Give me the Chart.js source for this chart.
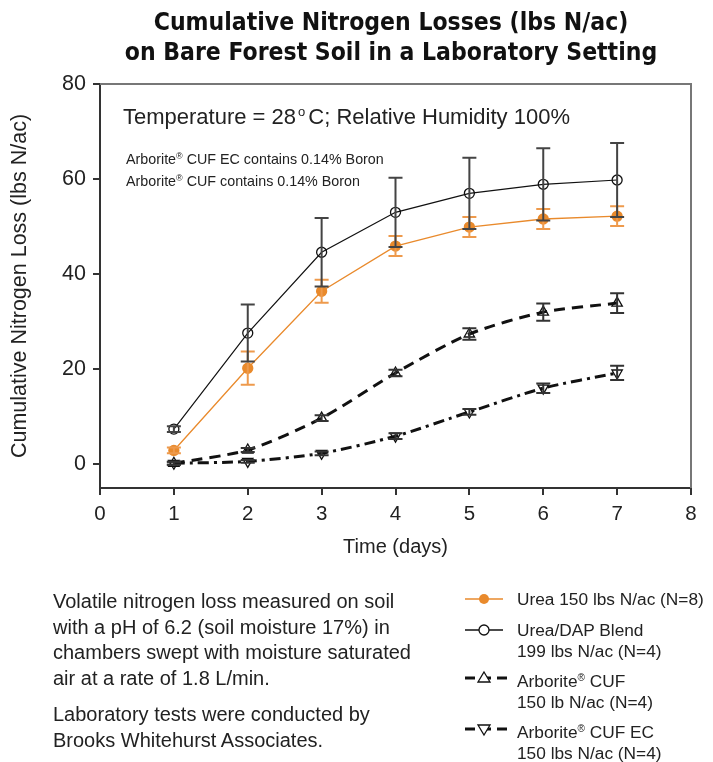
<!DOCTYPE html>
<html>
<head>
<meta charset="utf-8">
<script src="https://cdn.jsdelivr.net/npm/chart.js@4/dist/chart.umd.min.js"></script>
<style>
  html, body { margin: 0; padding: 0; background: #fff; }
  #wrap { position: relative; width: 713px; height: 762px; font-family: 'Liberation Sans', Arial, sans-serif; color: #222; }
  #chart { position: absolute; left: 0; top: 0; }
  .title { position: absolute; left: 91px; width: 600px; top: 7px; text-align: center;
    font-family: 'Liberation Sans Narrow', 'DejaVu Sans Condensed', sans-serif; font-weight: bold;
    font-size: 24.5px; line-height: 30px; color: #111; }
  .temp { position: absolute; left: 123px; top: 104px; font-size: 22px; white-space: nowrap; }
  .temp sup { font-size: 13px; vertical-align: 8px; margin: 0 3px 0 2px; }
  .boron { position: absolute; left: 126px; font-size: 14.3px; white-space: nowrap; }
  sup.r { font-size: 9px; vertical-align: 5px; }
  .notes { position: absolute; left: 53px; top: 589px; font-size: 20px; line-height: 25.5px; }
  .notes p { margin: 0 0 11px 0; }
  .leg { position: absolute; left: 460px; font-size: 17.3px; line-height: 20.5px; white-space: nowrap; }
  .leg svg { position: absolute; left: 0; top: 0; }
  .leg span { position: absolute; left: 57px; top: 0; }
  .leg sup.r { font-size: 10px; vertical-align: 6px; }
</style>
</head>
<body>
<div id="wrap">
  <canvas id="chart" width="713" height="762"></canvas>
  <div class="title">Cumulative Nitrogen Losses (lbs N/ac)<br>on Bare Forest Soil in a Laboratory Setting</div>
  <div class="temp">Temperature = 28<sup>o</sup>C; Relative Humidity 100%</div>
  <div class="boron" style="top:151px">Arborite<sup class="r">®</sup> CUF EC contains 0.14% Boron</div>
  <div class="boron" style="top:173px">Arborite<sup class="r">®</sup> CUF contains 0.14% Boron</div>
  <div class="notes">
    <p>Volatile nitrogen loss measured on soil<br>with a pH of 6.2 (soil moisture 17%) in<br>chambers swept with moisture saturated<br>air at a rate of 1.8 L/min.</p>
    <p>Laboratory tests were conducted by<br>Brooks Whitehurst Associates.</p>
  </div>
  <div class="leg" style="top:589px">
    <svg width="50" height="20"><line x1="5" y1="10" x2="43" y2="10" stroke="#E98A2C" stroke-width="1.5"/><circle cx="24" cy="10" r="5" fill="#E98A2C"/></svg>
    <span>Urea 150 lbs N/ac (N=8)</span>
  </div>
  <div class="leg" style="top:620px">
    <svg width="50" height="20"><line x1="5" y1="10" x2="43" y2="10" stroke="#111" stroke-width="1.4"/><circle cx="24" cy="10" r="5" fill="#fff" stroke="#111" stroke-width="1.3"/></svg>
    <span>Urea/DAP Blend<br>199 lbs N/ac (N=4)</span>
  </div>
  <div class="leg" style="top:668px">
    <svg width="50" height="20"><line x1="5" y1="10" x2="48" y2="10" stroke="#111" stroke-width="3" stroke-dasharray="10 6"/><path d="M24 4 L30 14 L18 14 Z" fill="#fff" stroke="#111" stroke-width="1.3"/></svg>
    <span>Arborite<sup class="r">®</sup> CUF<br>150 lb N/ac (N=4)</span>
  </div>
  <div class="leg" style="top:719px">
    <svg width="50" height="20"><line x1="5" y1="10" x2="48" y2="10" stroke="#111" stroke-width="3" stroke-dasharray="10 6"/><path d="M24 16 L30 6 L18 6 Z" fill="#fff" stroke="#111" stroke-width="1.3"/></svg>
    <span>Arborite<sup class="r">®</sup> CUF EC<br>150 lbs N/ac (N=4)</span>
  </div>
</div>
<script>
const days = [1, 2, 3, 4, 5, 6, 7];
const xTicks = [0, 1, 2, 3, 4, 5, 6, 7, 8];
const yTicks = [0, 20, 40, 60, 80];

const urea = [2.9, 20.2, 36.4, 45.9, 49.9, 51.6, 52.2];
const ureaErr = [0.6, 3.5, 2.4, 2.1, 2.1, 2.1, 2.1];

const ureaDap = [7.4, 27.6, 44.6, 53.0, 57.0, 58.9, 59.8];
const ureaDapErr = [0.6, 6.0, 7.2, 7.3, 7.5, 7.6, 7.8];

const cuf = [0.2, 3.0, 9.7, 19.2, 27.4, 32.0, 33.9];
const cufErr = [0.3, 0.4, 0.6, 0.7, 1.2, 1.8, 2.1];

const cufEc = [0.2, 0.6, 2.3, 5.9, 11.0, 16.0, 19.2];
const cufEcErr = [0.3, 0.3, 0.4, 0.6, 0.6, 1.0, 1.5];

const ORANGE = '#E98A2C';

function pts(values) {
  return days.map((d, i) => ({ x: d, y: values[i] }));
}

// draws vertical error bars with caps using the chart's own scales
const errorBars = {
  id: 'errorBars',
  afterDatasetsDraw(chart) {
    const { ctx, scales: { x, y } } = chart;
    ctx.save();
    chart.data.datasets.forEach(ds => {
      if (!ds.errors) return;
      ctx.strokeStyle = ds.errorColor;
      ctx.lineWidth = 2;
      ds.data.forEach((p, i) => {
        const e = ds.errors[i];
        const px = x.getPixelForValue(p.x);
        const top = y.getPixelForValue(p.y + e);
        const bot = y.getPixelForValue(p.y - e);
        ctx.beginPath();
        ctx.moveTo(px, top); ctx.lineTo(px, bot);
        ctx.moveTo(px - 7, top); ctx.lineTo(px + 7, top);
        ctx.moveTo(px - 7, bot); ctx.lineTo(px + 7, bot);
        ctx.stroke();
      });
    });
    ctx.restore();
  }
};

// gray top and right frame of the plot box
const frame = {
  id: 'frame',
  beforeDatasetsDraw(chart) {
    const { ctx, chartArea: a } = chart;
    ctx.save();
    ctx.strokeStyle = '#777';
    ctx.lineWidth = 2;
    ctx.beginPath();
    ctx.moveTo(a.left, a.top);
    ctx.lineTo(a.right, a.top);
    ctx.lineTo(a.right, a.bottom);
    ctx.stroke();
    ctx.restore();
  }
};

new Chart(document.getElementById('chart'), {
  type: 'line',
  data: {
    datasets: [
      {
        label: 'Urea 150 lbs N/ac (N=8)',
        data: pts(urea), errors: ureaErr, errorColor: '#EE9A4C',
        borderColor: ORANGE, borderWidth: 1.3,
        pointStyle: 'circle', pointRadius: 5, pointBackgroundColor: ORANGE, pointBorderColor: ORANGE,
        tension: 0
      },
      {
        label: 'Urea/DAP Blend 199 lbs N/ac (N=4)',
        data: pts(ureaDap), errors: ureaDapErr, errorColor: '#444',
        borderColor: '#111', borderWidth: 1.2,
        pointStyle: 'circle', pointRadius: 5, pointBackgroundColor: 'rgba(255,255,255,0)', pointBorderColor: '#111', pointBorderWidth: 1.3,
        tension: 0
      },
      {
        label: 'Arborite CUF 150 lb N/ac (N=4)',
        data: pts(cuf), errors: cufErr, errorColor: '#333',
        borderColor: '#111', borderWidth: 3, borderDash: [11, 7],
        pointStyle: 'triangle', pointRadius: 6, pointBackgroundColor: 'rgba(255,255,255,0)', pointBorderColor: '#111', pointBorderWidth: 1.3,
        tension: 0.25
      },
      {
        label: 'Arborite CUF EC 150 lbs N/ac (N=4)',
        data: pts(cufEc), errors: cufEcErr, errorColor: '#333',
        borderColor: '#111', borderWidth: 3, borderDash: [11, 5, 3, 5],
        pointStyle: 'triangle', pointRotation: 180, pointRadius: 6, pointBackgroundColor: 'rgba(255,255,255,0)', pointBorderColor: '#111', pointBorderWidth: 1.3,
        tension: 0.25
      }
    ]
  },
  options: {
    responsive: false,
    animation: false,
    layout: { padding: { left: 0, top: 84, right: 22, bottom: 199 } },
    plugins: { legend: { display: false }, tooltip: { enabled: false } },
    scales: {
      x: {
        type: 'linear', min: 0, max: 8,
        afterBuildTicks: s => { s.ticks = xTicks.map(v => ({ value: v })); },
        afterFit: s => { s.height = 75; },
        grid: { display: true, drawOnChartArea: false, drawTicks: true, tickLength: 7, color: '#333', lineWidth: 2 },
        border: { display: true, color: '#333', width: 2 },
        ticks: { color: '#222', font: { family: 'Liberation Sans', size: 20.5 }, padding: 7 },
        title: { display: true, text: 'Time (days)', color: '#222', font: { family: 'Liberation Sans', size: 20 }, padding: { top: 4, bottom: 4 } }
      },
      y: {
        type: 'linear', min: -5, max: 80,
        afterBuildTicks: s => { s.ticks = yTicks.map(v => ({ value: v })); },
        afterFit: s => { s.width = 100; },
        grid: { display: true, drawOnChartArea: false, drawTicks: true, tickLength: 7, color: '#333', lineWidth: 2 },
        border: { display: true, color: '#333', width: 2 },
        ticks: { color: '#222', font: { family: 'Liberation Sans', size: 21.5 }, padding: 7 },
        title: { display: true, text: 'Cumulative Nitrogen Loss (lbs N/ac)', color: '#222', font: { family: 'Liberation Sans', size: 21.5 }, padding: { top: 7, bottom: 0 } }
      }
    }
  },
  plugins: [frame, errorBars]
});
</script>
</body>
</html>
